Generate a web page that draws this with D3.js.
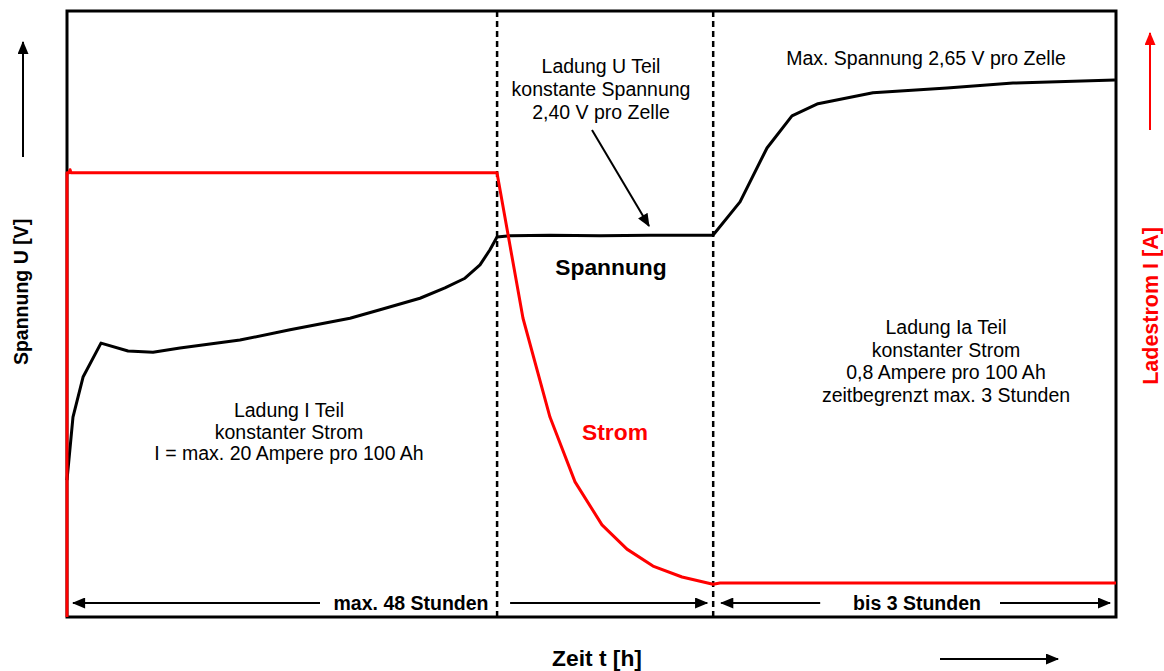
<!DOCTYPE html>
<meta charset="utf-8">
<style>
    html,
    body {
        margin: 0;
        padding: 0;
        background: #fff;
    }

    text {
        font-family: "Liberation Sans", Arial, sans-serif;
    }
</style>
<svg id="canvas" width="1164" height="671"></svg>
<script src="https://d3js.org/d3.v7.min.js"></script>
<script>
    // charging phases (relative time, 0..100)
    const phaseBounds = [0, 41.0, 61.6, 100];

    // voltage curve: relative time / relative voltage
    const voltTime = [0, 0.57, 1.53, 3.24, 5.82, 8.2, 10.77, 16.49, 21.26, 26.98, 29.84, 33.65, 36.03, 37.94, 39.37, 40.32, 40.99,
        42.23, 46.04, 50.81, 55.58, 61.58, 64.16, 66.73, 69.11, 71.59, 76.83, 83.89, 90.18, 99.9];
    const voltValue = [22.6, 33.0, 39.6, 45.2, 43.9, 43.7, 44.4, 45.7, 47.4, 49.3, 50.7, 52.6, 54.3, 55.9, 58.1, 60.6, 62.7,
        62.9, 63.0, 62.9, 63.0, 63.0, 68.5, 77.4, 82.7, 84.7, 86.5, 87.3, 88.1, 88.6];

    // current curve
    const currTime = [0, 0, 0.2, 0.29, 0.38, 40.99, 43.47, 46.04, 48.43, 51.0, 53.38, 55.86, 58.63, 61.58, 62.25, 100];
    const currValue = [0, 73.3, 73.3, 73.8, 73.3, 73.3, 49.3, 33.0, 22.3, 15.2, 11.2, 8.4, 6.6, 5.4, 5.6, 5.6];

    const svg = d3.select("#canvas");

    const plotL = 67, plotR = 1116, plotT = 11, plotB = 617;

    const x = d3.scaleLinear().domain([0, 100]).range([plotL, plotR]);
    const y = d3.scaleLinear().domain([0, 100]).range([plotB, plotT]);

    const defs = svg.append("defs");
    function arrowMarker(id, colour) {
        defs.append("marker")
            .attr("id", id)
            .attr("viewBox", "0 0 12 10")
            .attr("refX", 11)
            .attr("refY", 5)
            .attr("markerUnits", "userSpaceOnUse")
            .attr("markerWidth", 14)
            .attr("markerHeight", 11)
            .attr("orient", "auto")
            .append("path")
            .attr("d", "M0,0 L12,5 L0,10 Z")
            .attr("fill", colour);
    }
    arrowMarker("arrBlack", "#000");
    arrowMarker("arrRed", "#f00");

    // frame
    svg.append("rect")
        .attr("x", plotL)
        .attr("y", plotT)
        .attr("width", plotR - plotL)
        .attr("height", plotB - plotT)
        .attr("fill", "none")
        .attr("stroke", "#000")
        .attr("stroke-width", 3);

    // phase separators
    svg.selectAll(".sep")
        .data(phaseBounds.slice(1, 3))
        .enter().append("line")
        .attr("x1", d => x(d))
        .attr("x2", d => x(d))
        .attr("y1", plotT)
        .attr("y2", plotB)
        .attr("stroke", "#000")
        .attr("stroke-width", 2.5)
        .attr("stroke-dasharray", "6,4");

    const line = d3.line()
        .x(d => x(d[0]))
        .y(d => y(d[1]));

    svg.append("path")
        .datum(voltTime.map((t, i) => [t, voltValue[i]]))
        .attr("d", line)
        .attr("fill", "none")
        .attr("stroke", "#000")
        .attr("stroke-width", 3)
        .attr("stroke-linejoin", "round");

    svg.append("path")
        .datum(currTime.map((t, i) => [t, currValue[i]]))
        .attr("d", line)
        .attr("fill", "none")
        .attr("stroke", "#f00")
        .attr("stroke-width", 3)
        .attr("stroke-linejoin", "round");

    // helper for multi line text
    function block(lines, cx, cy, size, lh) {
        const t = svg.append("text")
            .attr("text-anchor", "middle")
            .attr("font-size", size);
        lines.forEach((s, i) => {
            t.append("tspan")
                .attr("x", cx)
                .attr("y", cy + i * lh)
                .text(s);
        });
        return t;
    }

    block(["Ladung I Teil", "konstanter Strom", "I = max. 20 Ampere pro 100 Ah"], 289, 417, 19.5, 21.7);
    block(["Ladung U Teil", "konstante Spannung", "2,40 V pro Zelle"], 601, 73, 19.5, 23);
    block(["Max. Spannung 2,65 V pro Zelle"], 926, 65, 19.5, 22);
    block(["Ladung Ia Teil", "konstanter Strom", "0,8 Ampere pro 100 Ah", "zeitbegrenzt max. 3 Stunden"], 946, 334, 19.5, 22.7);

    svg.append("text")
        .attr("x", 611).attr("y", 275)
        .attr("text-anchor", "middle")
        .attr("font-size", 22.8).attr("font-weight", "bold")
        .text("Spannung");

    svg.append("text")
        .attr("x", 615).attr("y", 440)
        .attr("text-anchor", "middle")
        .attr("font-size", 22.8).attr("font-weight", "bold")
        .attr("fill", "#f00")
        .text("Strom");

    // annotation arrow to the constant voltage part
    svg.append("line")
        .attr("x1", 592).attr("y1", 130)
        .attr("x2", 649).attr("y2", 226)
        .attr("stroke", "#000").attr("stroke-width", 2)
        .attr("marker-end", "url(#arrBlack)");

    // duration arrows
    function arrow(x1, y1, x2, y2, colour, w) {
        svg.append("line")
            .attr("x1", x1).attr("y1", y1)
            .attr("x2", x2).attr("y2", y2)
            .attr("stroke", colour)
            .attr("stroke-width", w)
            .attr("marker-end", colour === "#f00" ? "url(#arrRed)" : "url(#arrBlack)");
    }
    const dimY = 603;
    arrow(x(phaseBounds[0]) + 253, dimY, x(phaseBounds[0]) + 6, dimY, "#000", 2);
    arrow(x(phaseBounds[1]) + 13, dimY, x(phaseBounds[2]) - 6, dimY, "#000", 2);
    arrow(x(phaseBounds[2]) + 107, dimY, x(phaseBounds[2]) + 8, dimY, "#000", 2);
    arrow(x(phaseBounds[3]) - 116, dimY, x(phaseBounds[3]) - 6, dimY, "#000", 2);

    svg.append("text")
        .attr("x", 411).attr("y", dimY + 7)
        .attr("text-anchor", "middle")
        .attr("font-size", 19.5).attr("font-weight", "bold")
        .text("max. 48 Stunden");
    svg.append("text")
        .attr("x", 917).attr("y", dimY + 7)
        .attr("text-anchor", "middle")
        .attr("font-size", 19.5).attr("font-weight", "bold")
        .text("bis 3 Stunden");

    // axis titles and direction arrows
    svg.append("text")
        .attr("transform", "translate(28,292) rotate(-90)")
        .attr("text-anchor", "middle")
        .attr("font-size", 19.5).attr("font-weight", "bold")
        .text("Spannung U [V]");
    arrow(23, 157, 23, 42, "#000", 2);

    svg.append("text")
        .attr("transform", "translate(1158,306) rotate(-90)")
        .attr("text-anchor", "middle")
        .attr("font-size", 21.5).attr("font-weight", "bold")
        .attr("fill", "#f00")
        .text("Ladestrom I [A]");
    arrow(1150, 130, 1150, 33, "#f00", 2);

    svg.append("text")
        .attr("x", 597).attr("y", 666)
        .attr("text-anchor", "middle")
        .attr("font-size", 22.8).attr("font-weight", "bold")
        .text("Zeit t [h]");
    arrow(940, 659, 1058, 659, "#000", 2);
</script>
